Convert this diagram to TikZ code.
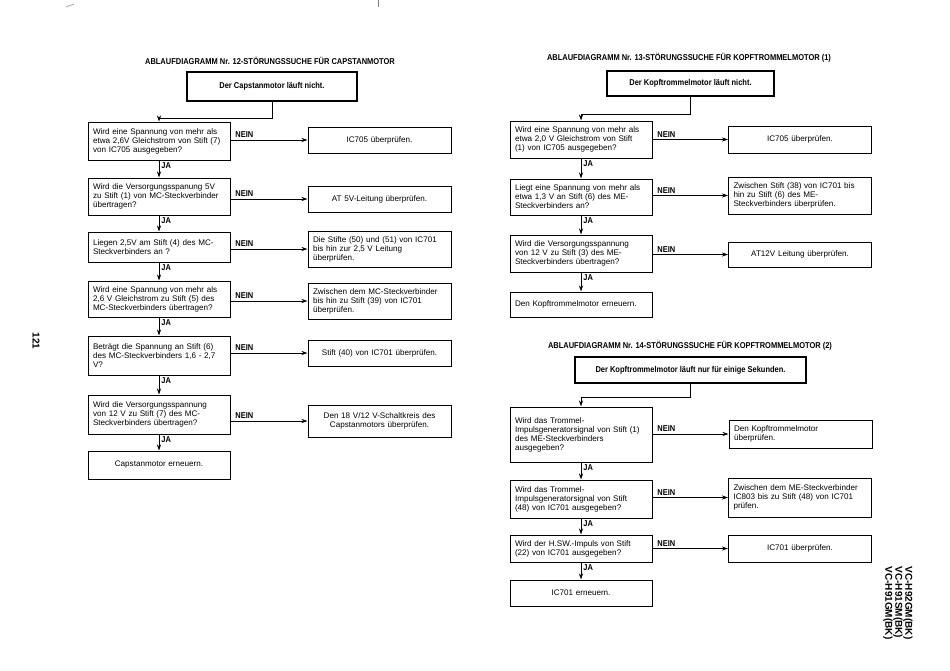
\documentclass[tikz,border=0pt]{standalone}
\usepackage{fontspec}
\setmainfont{Liberation Sans}
\newfontfamily\tfont[FakeStretch=0.88]{Liberation Sans}
\usetikzlibrary{arrows.meta,calc}
\tikzset{
  base/.style={draw, line width=1pt, rectangle, inner ysep=0pt, inner xsep=5pt,
    font=\fontsize{8.1}{9}\selectfont},
  qbox/.style={base, text width=132pt, align=left},
  fbox/.style={base, text width=132pt, align=center},
  rboxl/.style={base, text width=133pt, align=left},
  rboxc/.style={base, text width=133pt, align=center},
  sbox/.style={draw, line width=2pt, inner sep=0pt, font=\tfont\bfseries\fontsize{8.5}{9}\selectfont},
  ttl/.style={inner sep=0pt, font=\tfont\bfseries\fontsize{8.5}{9}\selectfont},
  arr/.style={-{Stealth[length=6pt,width=4pt]}, line width=0.8pt},
  nein/.style={anchor=south west, xshift=4pt, yshift=1.5pt, inner sep=0.5pt, font=\tfont\bfseries\fontsize{8.5}{9}\selectfont},
  ja/.style={anchor=north west, xshift=1.5pt, yshift=-1.5pt, inner sep=0.5pt, font=\tfont\bfseries\fontsize{8.5}{9}\selectfont},
  side/.style={rotate=-90, inner sep=0pt, font=\bfseries\fontsize{10}{10}\selectfont},
}
\begin{document}
\begin{tikzpicture}[x=1pt,y=-1pt]
\fill[white] (0,0) rectangle (950,670);
\path[use as bounding box] (0,0) rectangle (950,670);

% scan marks
\draw[gray, line width=0.6pt] (378,0) -- (378,7);
\draw[gray!70, line width=0.8pt] (66,7) -- (74,4);

% ---------------- Diagram 12 ----------------
\node[ttl] (t12) at (270,61) {ABLAUFDIAGRAMM Nr. 12-STÖRUNGSSUCHE FÜR CAPSTANMOTOR};
\node[sbox, minimum width=170pt, minimum height=29pt] (s12) at (272,86.5) {Der Capstanmotor läuft nicht.};

\node[qbox, minimum height=38pt] (a1) at (159,141) {Wird eine Spannung von mehr als\\etwa 2,6V Gleichstrom von Stift (7)\\von IC705 ausgegeben?};
\node[rboxc, minimum height=26pt] (b1) at (379.5,140) {IC705 überprüfen.};

\node[qbox, minimum height=37pt] (a2) at (159,196.5) {Wird die Versorgungsspanung 5V\\zu Stift (1) von MC-Steckverbinder\\übertragen?};
\node[rboxc, minimum height=26pt] (b2) at (379.5,199) {AT 5V-Leitung überprüfen.};

\node[qbox, minimum height=30pt] (a3) at (159,247) {Liegen 2,5V am Stift (4) des MC-\\Steckverbinders an ?};
\node[rboxl, minimum height=36pt] (b3) at (379.5,249) {Die Stifte (50) und (51) von IC701\\bis hin zur 2,5 V Leitung\\überprüfen.};

\node[qbox, minimum height=36pt] (a4) at (159,299) {Wird eine Spannung von mehr als\\2,6 V Gleichstrom zu Stift (5) des\\MC-Steckverbinders übertragen?};
\node[rboxl, minimum height=36pt] (b4) at (379.5,301) {Zwischen dem MC-Steckverbinder\\bis hin zu Stift (39) von IC701\\überprüfen.};

\node[qbox, minimum height=39pt] (a5) at (159,355.5) {Beträgt die Spannung an Stift (6)\\des MC-Steckverbinders 1,6 - 2,7\\V?};
\node[rboxc, minimum height=26pt] (b5) at (379.5,353) {Stift (40) von IC701 überprüfen.};

\node[qbox, minimum height=39pt] (a6) at (159,414.5) {Wird die Versorgungsspannung\\von 12 V zu Stift (7) des MC-\\Steckverbinders übertragen?};
\node[rboxc, minimum height=32pt] (b6) at (379.5,421) {Den 18 V/12 V-Schaltkreis des\\Capstanmotors überprüfen.};

\node[fbox, minimum height=28pt] (a7) at (159,465) {Capstanmotor erneuern.};

\draw[arr] (s12.south) -- ++(0,16) -| (a1.north);
\foreach \q/\r in {a1/b1,a2/b2,a3/b3,a4/b4,a5/b5,a6/b6}
  \draw[arr] (\q.east |- \r.west) node[nein] {NEIN} -- (\r.west);
\foreach \p/\n in {a1/a2,a2/a3,a3/a4,a4/a5,a5/a6,a6/a7}
  \draw[arr] (\p.south) node[ja] {JA} -- (\n.north);

% ---------------- Diagram 13 ----------------
\node[ttl] (t13) at (689,58) {ABLAUFDIAGRAMM Nr. 13-STÖRUNGSSUCHE FÜR KOPFTROMMELMOTOR (1)};
\node[sbox, minimum width=167pt, minimum height=25pt] (s13) at (690.5,83.5) {Der Kopftrommelmotor läuft nicht.};

\node[qbox, minimum height=37pt] (c1) at (581,139.5) {Wird eine Spannung von mehr als\\etwa 2,0 V Gleichstrom von Stift\\(1) von IC705 ausgegeben?};
\node[rboxc, minimum height=27pt] (d1) at (800,139.5) {IC705 überprüfen.};

\node[qbox, minimum height=36pt] (c2) at (581,197) {Liegt eine Spannung von mehr als\\etwa 1,3 V an Stift (6) des ME-\\Steckverbinders an?};
\node[rboxl, minimum height=37pt] (d2) at (800,195.5) {Zwischen Stift (38) von IC701 bis\\hin zu Stift (6) des ME-\\Steckverbinders überprüfen.};

\node[qbox, minimum height=37pt] (c3) at (581,253.5) {Wird die Versorgungsspannung\\von 12 V zu Stift (3) des ME-\\Steckverbinders übertragen?};
\node[rboxc, minimum height=25pt] (d3) at (800,254.5) {AT12V Leitung überprüfen.};

\node[qbox, minimum height=25pt] (c4) at (581,304.5) {Den Kopftrommelmotor erneuern.};

\draw[arr] (s13.south) -- ++(0,17) -| (c1.north);
\foreach \q/\r in {c1/d1,c2/d2,c3/d3}
  \draw[arr] (\q.east |- \r.west) node[nein] {NEIN} -- (\r.west);
\foreach \p/\n in {c1/c2,c2/c3,c3/c4}
  \draw[arr] (\p.south) node[ja] {JA} -- (\n.north);

% ---------------- Diagram 14 ----------------
\node[ttl] (t14) at (690,346) {ABLAUFDIAGRAMM Nr. 14-STÖRUNGSSUCHE FÜR KOPFTROMMELMOTOR (2)};
\node[sbox, minimum width=231pt, minimum height=26pt] (s14) at (690.5,370) {Der Kopftrommelmotor läuft nur für einige Sekunden.};

\node[qbox, minimum height=55pt] (e1) at (581,434.5) {Wird das Trommel-\\Impulsgeneratorsignal von Stift (1)\\des ME-Steckverbinders\\ausgegeben?};
\node[rboxl, minimum height=28pt] (g1) at (800.5,434) {Den Kopftrommelmotor\\überprüfen.};

\node[qbox, minimum height=38pt] (e2) at (581,499) {Wird das Trommel-\\Impulsgeneratorsignal von Stift\\(48) von IC701 ausgegeben?};
\node[rboxl, minimum height=39pt] (g2) at (800,497.5) {Zwischen dem ME-Steckverbinder\\IC803 bis zu Stift (48) von IC701\\prüfen.};

\node[qbox, minimum height=27pt] (e3) at (581,548.5) {Wird der H.SW.-Impuls von Stift\\(22) von IC701 ausgegeben?};
\node[rboxc, minimum height=27pt] (g3) at (800,548.5) {IC701 überprüfen.};

\node[fbox, minimum height=26pt] (e4) at (581,593) {IC701 erneuern.};

\draw[arr] (s14.south) -- ++(0,13) -| (e1.north);
\foreach \q/\r in {e1/g1,e2/g2,e3/g3}
  \draw[arr] (\q.east |- \r.west) node[nein] {NEIN} -- (\r.west);
\foreach \p/\n in {e1/e2,e2/e3,e3/e4}
  \draw[arr] (\p.south) node[ja] {JA} -- (\n.north);

% ---------------- side texts ----------------
\node[side] (pg) at (36,341) {121};
\node[side, align=left] (model) at (898,603) {VC-H92GM(BK)\\VC-H91SM(BK)\\VC-H91GM(BK)};
\end{tikzpicture}
\end{document}
